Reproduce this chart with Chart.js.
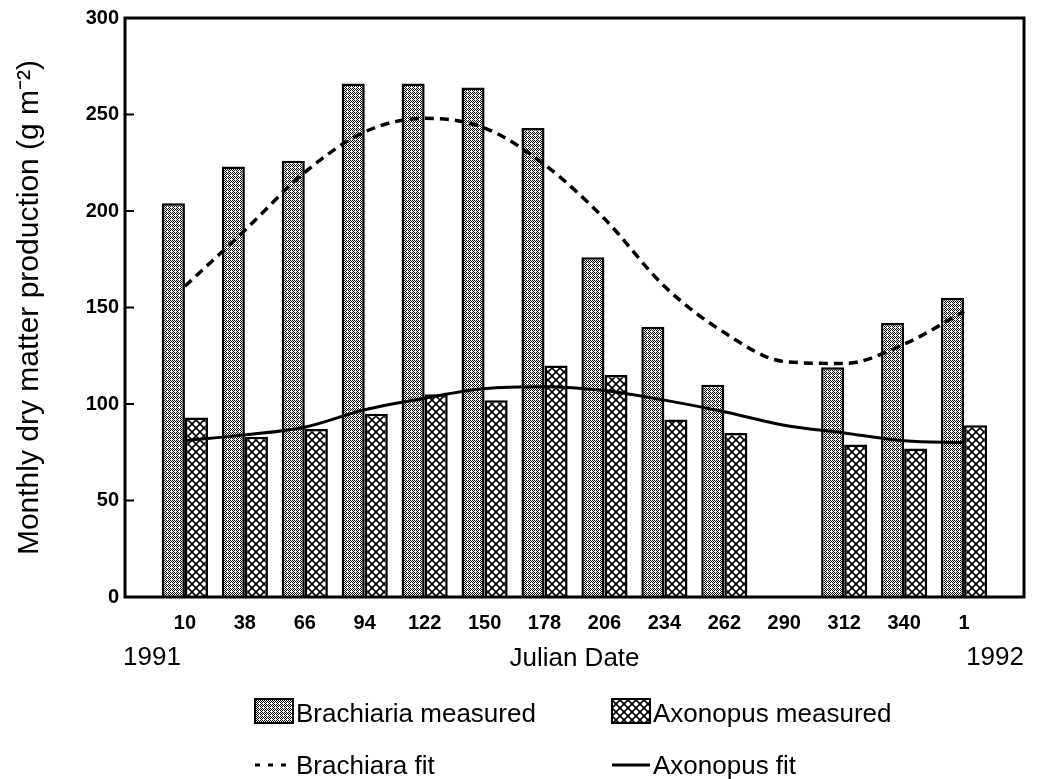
<!DOCTYPE html>
<html lang="en">
<head>
<meta charset="UTF-8">
<title>Monthly dry matter production</title>
<script src="https://cdn.jsdelivr.net/npm/chart.js"></script>
<style>
  html, body { margin: 0; padding: 0; background: #fff; }
</style>
</head>
<body>
<canvas id="myChart" width="1038" height="779"></canvas>
<script>
// Julian dates of the monthly cuts (1991 through 1 Jan 1992)
const julianDays = ['10', '38', '66', '94', '122', '150', '178', '206', '234', '262', '290', '312', '340', '1'];
const years = ['1991', '1992'];

// measured production, g m-2 (no harvest on day 290)
const brachiariaMeasured = [204, 223, 226, 266, 266, 264, 243, 176, 140, 110, null, 119, 142, 155];
const axonopusMeasured = [93, 83, 87, 95, 105, 102, 120, 115, 92, 85, null, 79, 77, 89];

// fitted seasonal curves
const brachiaraFit = [161, 190, 220, 241, 248, 243, 224, 196, 161, 137, 122, 121, 131, 148];
const axonopusFit = [81, 84, 88, 97, 103, 108, 109, 107, 102, 96, 89, 85, 81, 80];

const yTicks = { min: 0, max: 300, step: 50 };

const FONT = '"Liberation Sans", Arial, Helvetica, sans-serif';

// empty slot at each end so the first and last pair sit in from the frame
function pad(arr) { return [null].concat(arr, [null]); }

function stipplePattern() {
  const c = document.createElement('canvas');
  c.width = 4; c.height = 4;
  const g = c.getContext('2d');
  g.fillStyle = '#fff';
  g.fillRect(0, 0, 4, 4);
  g.fillStyle = '#000';
  [[0,0],[2,0],[1,1],[3,1],[0,2],[2,2],[1,3]].forEach(p => g.fillRect(p[0], p[1], 1, 1));
  return g.createPattern(c, 'repeat');
}

function crosshatchPattern() {
  const c = document.createElement('canvas');
  c.width = 8; c.height = 8;
  const g = c.getContext('2d');
  g.fillStyle = '#fff';
  g.fillRect(0, 0, 8, 8);
  g.strokeStyle = '#000';
  g.lineWidth = 1.6;
  g.beginPath();
  g.moveTo(-1, -1); g.lineTo(9, 9);
  g.moveTo(-1, 9); g.lineTo(9, -1);
  g.stroke();
  return g.createPattern(c, 'repeat');
}

// box round the plot, inward ticks on the y axis and the two year labels
const framePlugin = {
  id: 'frame',
  afterDraw(chart) {
    const ctx = chart.ctx;
    const a = chart.chartArea;
    const y = chart.scales.y;
    ctx.save();
    ctx.strokeStyle = '#000';
    ctx.lineWidth = 3;
    ctx.strokeRect(a.left, a.top, a.right - a.left, a.bottom - a.top);
    ctx.lineWidth = 2;
    y.ticks.forEach(t => {
      const py = y.getPixelForValue(t.value);
      ctx.beginPath();
      ctx.moveTo(a.left, py);
      ctx.lineTo(a.left + 9, py);
      ctx.stroke();
    });
    ctx.fillStyle = '#000';
    ctx.font = '26px ' + FONT;
    ctx.textBaseline = 'middle';
    ctx.textAlign = 'left';
    ctx.fillText(years[0], a.left - 2, 658);
    ctx.textAlign = 'right';
    ctx.fillText(years[1], a.right, 658);
    ctx.restore();
  }
};

// two by two legend under the axis
const legendPlugin = {
  id: 'gridLegend',
  afterDraw(chart) {
    const ctx = chart.ctx;
    const cols = [255, 612];
    const rows = [711, 763];
    ctx.save();
    ctx.font = '26px ' + FONT;
    ctx.textBaseline = 'middle';
    chart.data.datasets.forEach((d, i) => {
      const x = cols[i % 2];
      const y = rows[Math.floor(i / 2)];
      ctx.strokeStyle = '#000';
      if (d.type === 'line') {
        ctx.lineWidth = 3;
        ctx.setLineDash(d.borderDash ? [5, 8] : []);
        ctx.beginPath();
        ctx.moveTo(x, y + 2);
        ctx.lineTo(x + 38, y + 2);
        ctx.stroke();
        ctx.setLineDash([]);
      } else {
        ctx.fillStyle = d.backgroundColor;
        ctx.fillRect(x, y - 12, 38, 24);
        ctx.lineWidth = 2;
        ctx.strokeRect(x, y - 12, 38, 24);
      }
      ctx.fillStyle = '#000';
      ctx.fillText(d.label, x + 41, y + 4);
    });
    ctx.restore();
  }
};

const ctx = document.getElementById('myChart');

new Chart(ctx, {
  type: 'bar',
  data: {
    labels: pad(julianDays).map(v => v === null ? '' : v),
    datasets: [
      {
        label: 'Brachiaria measured',
        data: pad(brachiariaMeasured),
        backgroundColor: stipplePattern(),
        borderColor: '#000',
        borderWidth: 2.5,
        order: 1
      },
      {
        label: 'Axonopus measured',
        data: pad(axonopusMeasured),
        backgroundColor: crosshatchPattern(),
        borderColor: '#000',
        borderWidth: 2.5,
        order: 1
      },
      {
        type: 'line',
        label: 'Brachiara fit',
        data: pad(brachiaraFit),
        borderColor: '#000',
        borderWidth: 3.5,
        borderDash: [9, 6],
        pointRadius: 0,
        cubicInterpolationMode: 'monotone',
        fill: false,
        order: 0
      },
      {
        type: 'line',
        label: 'Axonopus fit',
        data: pad(axonopusFit),
        borderColor: '#000',
        borderWidth: 3,
        pointRadius: 0,
        cubicInterpolationMode: 'monotone',
        fill: false,
        order: 0
      }
    ]
  },
  options: {
    responsive: false,
    animation: false,
    layout: { padding: { top: 18, right: 13, bottom: 101, left: 0 } },
    datasets: {
      bar: { categoryPercentage: 0.77, barPercentage: 1.0 }
    },
    plugins: {
      legend: { display: false },
      tooltip: { enabled: false }
    },
    scales: {
      x: {
        offset: false,
        grid: { display: false, drawTicks: false },
        border: { display: false },
        ticks: {
          color: '#000',
          font: { family: FONT, size: 20, weight: 'bold' },
          padding: 14,
          maxRotation: 0,
          autoSkip: false
        },
        title: {
          display: true,
          text: 'Julian Date',
          color: '#000',
          font: { family: FONT, size: 26 },
          padding: { top: 4, bottom: 4 }
        },
        afterFit(scale) { scale.height = 81; }
      },
      y: {
        min: yTicks.min,
        max: yTicks.max,
        grid: { display: false, drawTicks: false },
        border: { display: false },
        ticks: {
          stepSize: yTicks.step,
          color: '#000',
          font: { family: FONT, size: 20, weight: 'bold' },
          padding: 6
        },
        title: {
          display: true,
          text: 'Monthly dry matter production (g m\u207B\u00B2)',
          color: '#000',
          font: { family: FONT, size: 30 },
          padding: { top: 12, bottom: 4 }
        },
        afterFit(scale) { scale.width = 125; }
      }
    }
  },
  plugins: [framePlugin, legendPlugin]
});
</script>
</body>
</html>
